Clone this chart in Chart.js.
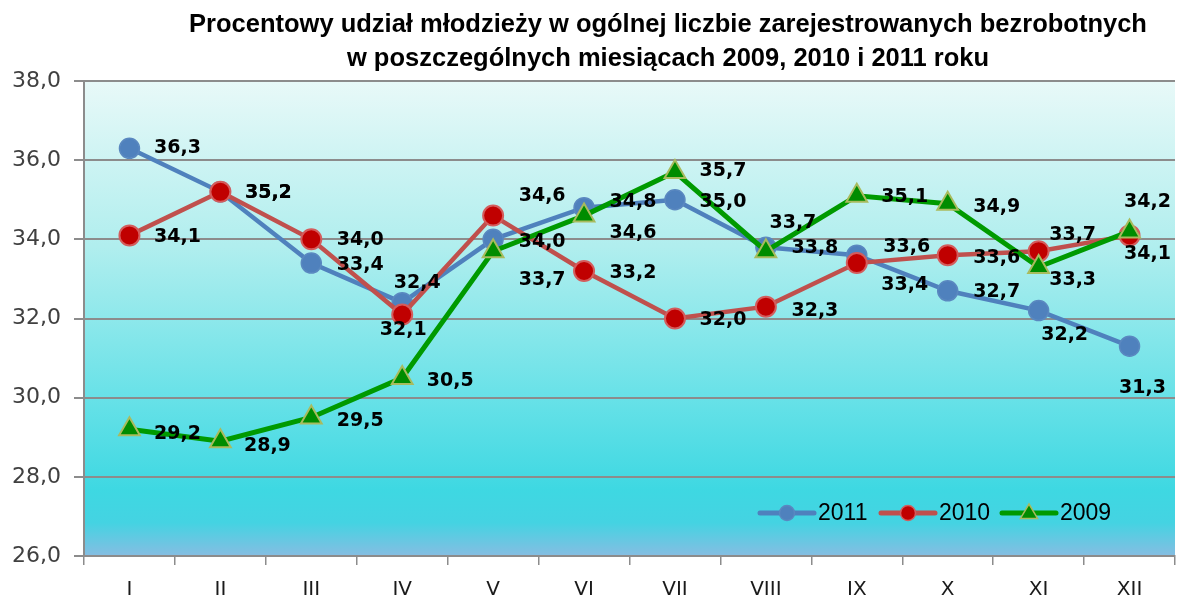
<!DOCTYPE html>
<html><head><meta charset="utf-8">
<script src="https://cdn.jsdelivr.net/npm/chart.js@4.4.0/dist/chart.umd.min.js"></script>
<style>html,body{margin:0;padding:0;background:#fff;overflow:hidden;}#wrap{width:1177px;height:599px;position:relative;}canvas{display:block;}</style>
</head><body><div id="wrap"><canvas id="c" width="1177" height="599"></canvas></div>
<script>
// ---- data ----
const months = ['I','II','III','IV','V','VI','VII','VIII','IX','X','XI','XII'];
const seriesNames = ['2011','2010','2009'];
const v2011 = [36.3,35.2,33.4,32.4,34.0,34.8,35.0,33.8,33.6,32.7,32.2,31.3];
const v2010 = [34.1,35.2,34.0,32.1,34.6,33.2,32.0,32.3,33.4,33.6,33.7,34.1];
const v2009 = [29.2,28.9,29.5,30.5,33.7,34.6,35.7,33.7,35.1,34.9,33.3,34.2];
const yMin = 26, yMax = 38, yStep = 2;
const titleLines = ['Procentowy udział młodzieży w ogólnej liczbie zarejestrowanych bezrobotnych',
                    'w poszczególnych miesiącach 2009, 2010 i 2011 roku'];

// ---- label placement nudges (layout only) ----
const nudge2011 = [[48,0],[48,1],[49,2],[15,-20],[49,3],[49,-6],[48,2],[49,1],[50,-8],[49,1],[26,24],[13,42]];
const nudge2010 = [[48,2],[48,1],[49,1],[1,16],[49,-20],[49,2],[48,2],[49,4],[48,22],[49,3],[34,-16],[18,19]];
const nudge2009 = [[48,5],[47,5],[49,4],[48,3],[49,29],[49,17],[48,-1],[27,-28],[48,1],[49,3],[34,13],[18,-29]];
const nudges = [nudge2011, nudge2010, nudge2009];

const fmt = v => v.toFixed(1).replace('.', ',');

const decor = {
  id: 'decor',
  beforeDraw(chart) {
    const ctx = chart.ctx, a = chart.chartArea;
    ctx.save();
    ctx.fillStyle = '#fff';
    ctx.fillRect(0, 0, chart.width, chart.height);
    const g = ctx.createLinearGradient(0, a.top, 0, a.bottom);
    g.addColorStop(0, '#e8f9f8');
    g.addColorStop(0.35, '#b0eeee');
    g.addColorStop(0.65, '#6be2e8');
    g.addColorStop(0.86, '#3ed8e2');
    g.addColorStop(0.93, '#44d3e2');
    g.addColorStop(1, '#86bde2');
    ctx.fillStyle = g;
    ctx.fillRect(a.left, a.top, a.right - a.left, a.bottom - a.top);
    ctx.restore();
  },
  afterDatasetsDraw(chart) {
    const ctx = chart.ctx;
    ctx.save();
    ctx.font = 'bold 19px "DejaVu Sans"';
    ctx.fillStyle = '#000';
    ctx.textAlign = 'center';
    ctx.textBaseline = 'middle';
    chart.data.datasets.forEach((ds, di) => {
      const meta = chart.getDatasetMeta(di);
      meta.data.forEach((pt, i) => {
        const n = nudges[di][i];
        ctx.fillText(fmt(ds.data[i]), pt.x + n[0], pt.y + n[1]);
      });
    });
    ctx.restore();
  },
  afterDraw(chart) {
    const ctx = chart.ctx;
    ctx.save();
    // title
    ctx.font = 'bold 25.5px "Liberation Sans", sans-serif';
    ctx.fillStyle = '#000';
    ctx.textAlign = 'center';
    ctx.textBaseline = 'alphabetic';
    ctx.fillText(titleLines[0], 668, 32);
    ctx.fillText(titleLines[1], 668, 66);
    // legend
    ctx.textAlign = 'left';
    ctx.textBaseline = 'middle';
    ctx.font = '23px "Liberation Sans", sans-serif';
    chart.data.datasets.forEach((ds, i) => {
      const x0 = 760 + i * 121, y = 513;
      ctx.strokeStyle = ds.borderColor;
      ctx.lineWidth = 5;
      ctx.lineCap = 'round';
      ctx.beginPath(); ctx.moveTo(x0, y); ctx.lineTo(x0 + 54, y); ctx.stroke();
      ctx.fillStyle = ds.pointBackgroundColor;
      ctx.strokeStyle = ds.pointBorderColor;
      ctx.lineWidth = 1.5;
      ctx.beginPath();
      if (ds.pointStyle === 'triangle') {
        const r = 9;
        ctx.moveTo(x0 + 27, y - r); ctx.lineTo(x0 + 27 + r * 0.95, y + r * 0.6); ctx.lineTo(x0 + 27 - r * 0.95, y + r * 0.6); ctx.closePath();
      } else {
        ctx.arc(x0 + 27, y, 7.5, 0, Math.PI * 2);
      }
      ctx.fill(); ctx.stroke();
      ctx.fillStyle = '#000';
      ctx.fillText(seriesNames[i], x0 + 58, y + 1);
    });
    ctx.restore();
  }
};

new Chart(document.getElementById('c'), {
  type: 'line',
  data: {
    labels: months,
    datasets: [
      { label: seriesNames[0], data: v2011, order: 3, borderColor: '#4f81bd', borderWidth: 4.5,
        pointStyle: 'circle', pointRadius: 10, pointBackgroundColor: '#4f81bd', pointBorderColor: '#5a88c0', pointBorderWidth: 1.5, tension: 0 },
      { label: seriesNames[1], data: v2010, order: 2, borderColor: '#c0504d', borderWidth: 4.5,
        pointStyle: 'circle', pointRadius: 10, pointBackgroundColor: '#c00000', pointBorderColor: '#d45c5c', pointBorderWidth: 2, tension: 0 },
      { label: seriesNames[2], data: v2009, order: 1, borderColor: '#009a00', borderWidth: 5,
        pointStyle: 'triangle', pointRadius: 12, pointBackgroundColor: '#008c00', pointBorderColor: '#a9bb5e', pointBorderWidth: 2, tension: 0 }
    ]
  },
  options: {
    responsive: false,
    animation: false,
    devicePixelRatio: 1,
    layout: { autoPadding: false, padding: { top: 81, left: 0, right: 2, bottom: 0 } },
    plugins: { legend: { display: false }, tooltip: { enabled: false }, title: { display: false } },
    scales: {
      x: {
        offset: true,
        grid: { offset: true, drawOnChartArea: false, drawTicks: true, tickLength: 9, color: '#8c8c8c', lineWidth: 1.5 },
        border: { color: '#8c8c8c', width: 2 },
        ticks: { font: { family: 'DejaVu Sans', size: 20 }, color: '#1a1a1a', padding: 13, maxRotation: 0 },
        afterFit: s => { s.height = 43; }
      },
      y: {
        min: yMin, max: yMax,
        ticks: { stepSize: yStep, callback: v => fmt(v), font: { family: 'DejaVu Sans', size: 22 }, color: '#404040', padding: 13 },
        grid: { color: '#8c8c8c', lineWidth: 2, tickLength: 10 },
        border: { color: '#8c8c8c', width: 2 },
        afterFit: s => { s.width = 84; }
      }
    }
  },
  plugins: [decor]
});
</script>
</body></html>
